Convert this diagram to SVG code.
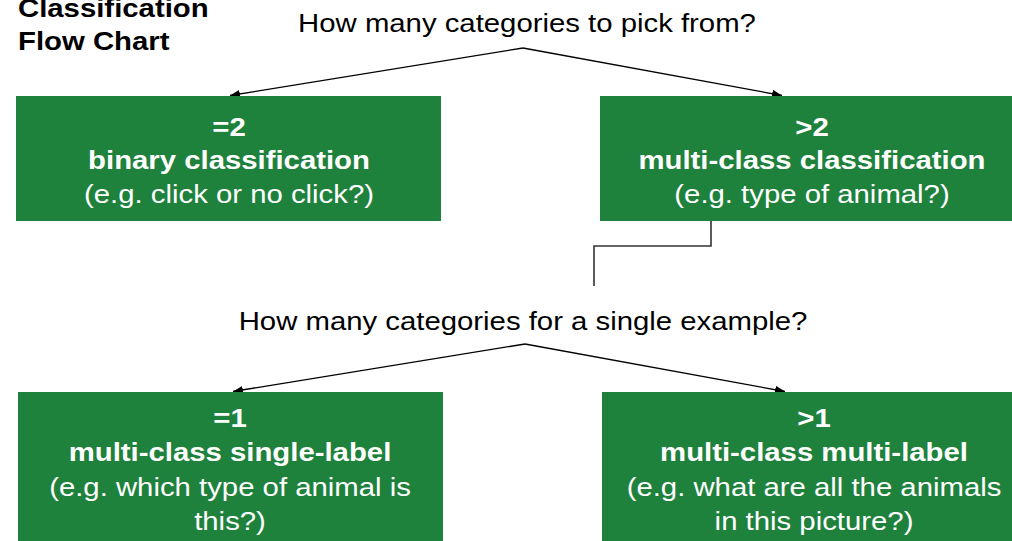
<svg xmlns="http://www.w3.org/2000/svg" width="1012" height="541" viewBox="0 0 1012 541">
  <defs>
    <marker id="arrow" viewBox="0 0 10 8" refX="10" refY="4" markerWidth="10" markerHeight="8" markerUnits="userSpaceOnUse" orient="auto">
      <path d="M0,0 L10,4 L0,8 Z" fill="#000"/>
    </marker>
    <style>
      .box { fill: #1e813c; }
      .t { font-family: "Liberation Sans", Arial, sans-serif; font-size: 25.5px; }
      .w { fill: #fff; text-anchor: middle; }
      .b { font-weight: bold; }
      .q { fill: #000; text-anchor: middle; }
      .edge { fill: none; stroke: #000; stroke-width: 1.3; }
      .elbow { fill: none; stroke: #333; stroke-width: 1.6; }
    </style>
  </defs>
  <rect width="1012" height="541" fill="#fff"/>

  <!-- title -->
  <g id="title" class="t b" fill="#000">
    <text transform="translate(18,17) scale(1.15,1)">Classification</text>
    <text transform="translate(18,50) scale(1.15,1)">Flow Chart</text>
  </g>

  <!-- questions -->
  <g id="q1" class="t q">
    <text transform="translate(527,32) scale(1.15,1)">How many categories to pick from?</text>
  </g>
  <g id="q2" class="t q">
    <text transform="translate(523,330) scale(1.15,1)">How many categories for a single example?</text>
  </g>

  <!-- connectors -->
  <g id="connectors">
    <polyline class="edge" points="523,48 230,95.5" marker-end="url(#arrow)"/>
    <polyline class="edge" points="523,48 782,95.5" marker-end="url(#arrow)"/>
    <polyline class="elbow" points="711,221 711,246 594,246 594,286"/>
    <polyline class="edge" points="525,344 233,391.5" marker-end="url(#arrow)"/>
    <polyline class="edge" points="525,344 785,391.5" marker-end="url(#arrow)"/>
  </g>

  <!-- binary -->
  <g id="binary">
    <rect class="box" x="16" y="96" width="425" height="125"/>
    <text class="t w b" transform="translate(229,136) scale(1.15,1)">=2</text>
    <text class="t w b" transform="translate(229,169) scale(1.15,1)">binary classification</text>
    <text class="t w" transform="translate(229,203) scale(1.15,1)">(e.g. click or no click?)</text>
  </g>

  <!-- multi-class -->
  <g id="multiclass">
    <rect class="box" x="600" y="96" width="425" height="125"/>
    <text class="t w b" transform="translate(812,136) scale(1.15,1)">&gt;2</text>
    <text class="t w b" transform="translate(812,169) scale(1.15,1)">multi-class classification</text>
    <text class="t w" transform="translate(812,203) scale(1.15,1)">(e.g. type of animal?)</text>
  </g>

  <!-- single-label -->
  <g id="singlelabel">
    <rect class="box" x="18" y="392" width="425" height="160"/>
    <text class="t w b" transform="translate(230,427) scale(1.15,1)">=1</text>
    <text class="t w b" transform="translate(230,461) scale(1.15,1)">multi-class single-label</text>
    <text class="t w" transform="translate(230,496) scale(1.15,1)">(e.g. which type of animal is</text>
    <text class="t w" transform="translate(230,530) scale(1.15,1)">this?)</text>
  </g>

  <!-- multi-label -->
  <g id="multilabel">
    <rect class="box" x="602" y="392" width="425" height="160"/>
    <text class="t w b" transform="translate(814,427) scale(1.15,1)">&gt;1</text>
    <text class="t w b" transform="translate(814,461) scale(1.15,1)">multi-class multi-label</text>
    <text class="t w" transform="translate(814,496) scale(1.15,1)">(e.g. what are all the animals</text>
    <text class="t w" transform="translate(814,530) scale(1.15,1)">in this picture?)</text>
  </g>
</svg>
